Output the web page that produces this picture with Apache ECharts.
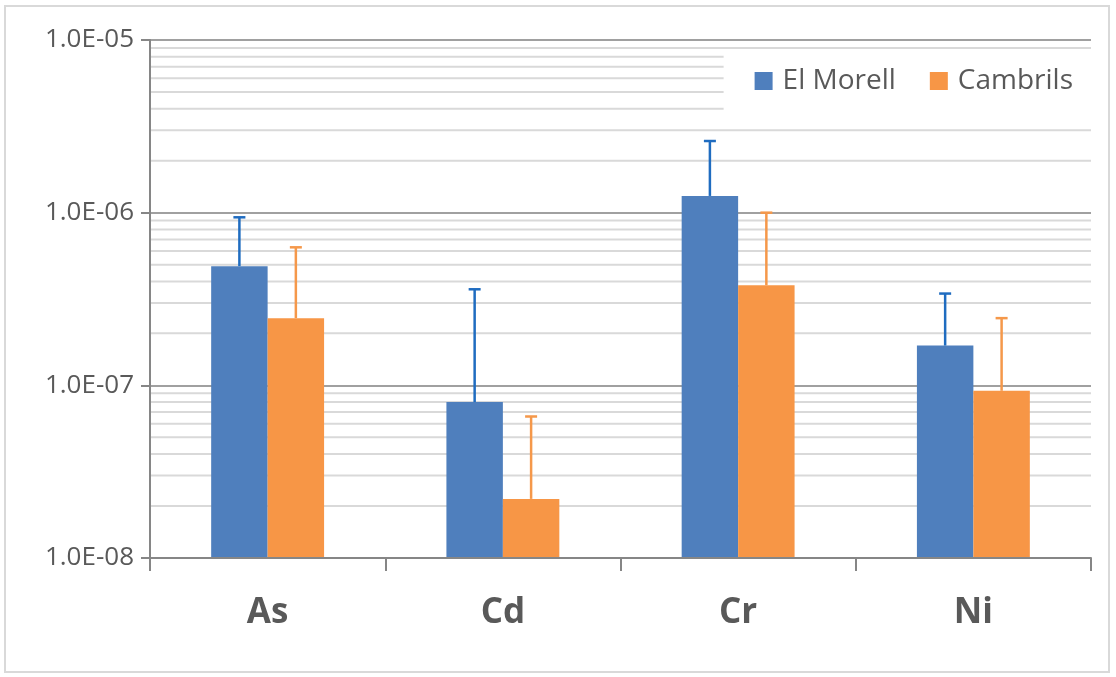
<!DOCTYPE html>
<html>
<head>
<meta charset="utf-8">
<script src="https://cdn.jsdelivr.net/npm/echarts@6/dist/echarts.min.js"></script>
<style>
  html, body { margin: 0; padding: 0; background: #fff; }
  #chart { width: 1116px; height: 677px; }
</style>
</head>
<body>
<div id="chart"></div>
<script>
// metals on the x axis
const categories = ['As', 'Cd', 'Cr', 'Ni']
// mean values (bar tops) and upper error limits
const elMorell = [4.9e-7, 8.0e-8, 1.25e-6, 1.7e-7]
const elMorellHigh = [9.4e-7, 3.6e-7, 2.6e-6, 3.4e-7]
const cambrils = [2.45e-7, 2.2e-8, 3.8e-7, 9.3e-8]
const cambrilsHigh = [6.3e-7, 6.6e-8, 1.0e-6, 2.45e-7]
// minor gridlines, as in the log axis of the original
const minorGrid = [
  2e-8, 3e-8, 4e-8, 5e-8, 6e-8, 7e-8, 8e-8, 9e-8,
  2e-7, 3e-7, 4e-7, 5e-7, 6e-7, 7e-7, 8e-7, 9e-7,
  2e-6, 3e-6, 4e-6, 5e-6, 6e-6, 7e-6, 8e-6, 9e-6
]
const yMin = 1e-8
const yMax = 1e-5

const blue = '#4f7fbd'
const orange = '#f79646'
const blueErr = '#1f6cc0'
const orangeErr = '#f5984a'

const BAR_FRAC = 0.24 // bar width as share of the category band

function sciLabel(v) {
  const exp = Math.round(Math.log10(v))
  const mant = v / Math.pow(10, exp)
  const sign = exp < 0 ? '-' : '+'
  return mant.toFixed(1) + 'E' + sign + String(Math.abs(exp)).padStart(2, '0')
}

// bars on a log axis have to start at the axis min, so draw them by hand
function barItem(side, color) {
  return function (params, api) {
    const idx = api.value(0)
    const top = api.coord([idx, api.value(1)])
    const bottom = api.coord([idx, yMin])
    const band = api.size([1, 1e-7])[0]
    const w = band * BAR_FRAC
    const x = side < 0 ? top[0] - w : top[0]
    return {
      type: 'rect',
      shape: { x: x, y: top[1], width: w, height: bottom[1] - top[1] },
      style: { fill: color }
    }
  }
}

// error bar: vertical line from bar top to upper limit, with a cap
function errorBar(side, color) {
  return function (params, api) {
    const idx = api.value(0)
    const base = api.coord([idx, api.value(1)])
    const top = api.coord([idx, api.value(2)])
    const band = api.size([1, 1e-7])[0]
    const x = base[0] + side * band * BAR_FRAC / 2
    return {
      type: 'group',
      children: [
        { type: 'line', shape: { x1: x, y1: base[1], x2: x, y2: top[1] }, style: { stroke: color, lineWidth: 2.5 } },
        { type: 'line', shape: { x1: x - 6, y1: top[1], x2: x + 6, y2: top[1] }, style: { stroke: color, lineWidth: 2.5 } }
      ]
    }
  }
}

function minorLine(params, api) {
  const cs = params.coordSys
  const y = api.coord([0, api.value(0)])[1]
  return {
    type: 'line',
    shape: { x1: cs.x, y1: y, x2: cs.x + cs.width, y2: y },
    style: { stroke: '#d9d9d9', lineWidth: 2 }
  }
}

const chart = echarts.init(document.getElementById('chart'))
chart.setOption({
  animation: false,
  textStyle: { fontFamily: 'Open Sans' },
  graphic: [{
    type: 'rect',
    shape: { x: 5, y: 6, width: 1104, height: 666 },
    style: { fill: 'none', stroke: '#d9d9d9', lineWidth: 2 },
    z: -1
  }],
  grid: { left: 150, right: 25, top: 40, bottom: 119 },
  legend: {
    data: ['El Morell', 'Cambrils'],
    right: 25,
    top: 55,
    padding: [12, 18, 18, 31],
    backgroundColor: '#fff',
    icon: 'rect',
    itemWidth: 18,
    itemHeight: 18,
    itemGap: 34,
    textStyle: { fontSize: 28, color: '#595959', padding: [0, 0, 0, 5] },
    z: 10
  },
  xAxis: {
    type: 'category',
    data: categories,
    axisLine: { lineStyle: { color: '#868686', width: 2 } },
    axisTick: { show: true, length: 13, lineStyle: { color: '#868686', width: 2 } },
    axisLabel: { fontSize: 35, fontWeight: 'bold', color: '#595959', margin: 38 },
    z: 5
  },
  yAxis: {
    type: 'log',
    logBase: 10,
    min: yMin,
    max: yMax,
    axisLine: { show: true, lineStyle: { color: '#868686', width: 2 } },
    axisTick: { show: true, length: 9, lineStyle: { color: '#868686', width: 2 } },
    axisLabel: { fontSize: 26, color: '#595959', margin: 16, formatter: sciLabel },
    splitLine: { lineStyle: { color: '#a0a0a0', width: 2 } }
  },
  series: [
    {
      name: 'minor grid',
      type: 'custom',
      renderItem: minorLine,
      data: minorGrid.map(v => [v]),
      encode: { y: 0 },
      silent: true,
      z: 0
    },
    {
      name: 'El Morell',
      type: 'custom',
      renderItem: barItem(-1, blue),
      itemStyle: { color: blue },
      data: categories.map((c, i) => [i, elMorell[i]]),
      encode: { x: 0, y: 1 },
      z: 3
    },
    {
      name: 'Cambrils',
      type: 'custom',
      renderItem: barItem(1, orange),
      itemStyle: { color: orange },
      data: categories.map((c, i) => [i, cambrils[i]]),
      encode: { x: 0, y: 1 },
      z: 3
    },
    {
      name: 'El Morell err',
      type: 'custom',
      renderItem: errorBar(-1, blueErr),
      data: categories.map((c, i) => [i, elMorell[i], elMorellHigh[i]]),
      encode: { x: 0, y: [1, 2] },
      z: 4
    },
    {
      name: 'Cambrils err',
      type: 'custom',
      renderItem: errorBar(1, orangeErr),
      data: categories.map((c, i) => [i, cambrils[i], cambrilsHigh[i]]),
      encode: { x: 0, y: [1, 2] },
      z: 4
    }
  ]
})
</script>
</body>
</html>
